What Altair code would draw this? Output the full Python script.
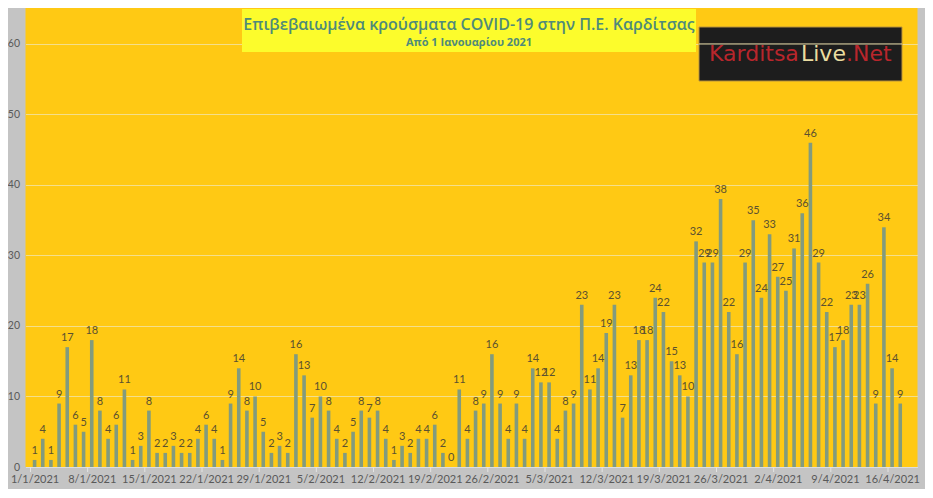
import altair as alt
import pandas as pd

# Daily confirmed cases, 1/1/2021 .. 17/4/2021
values = [
    1, 4, 1, 9, 17, 6, 5, 18, 8, 4, 6, 11, 1, 3, 8, 2, 2, 3, 2, 2, 4, 6, 4, 1, 9, 14, 8, 10, 5, 2, 3,  # Jan
    2, 16, 13, 7, 10, 8, 4, 2, 5, 8, 7, 8, 4, 1, 3, 2, 4, 4, 6, 2, 0, 11, 4, 8, 9, 16, 9, 4,          # Feb
    9, 4, 14, 12, 12, 4, 8, 9, 23, 11, 14, 19, 23, 7, 13, 18, 18, 24, 22, 15, 13, 10, 32, 29, 29, 38,
    22, 16, 29, 35, 24,                                                                                # Mar
    33, 27, 25, 31, 36, 46, 29, 22, 17, 18, 23, 23, 26, 9, 34, 14, 9,                                  # Apr
]
tick_labels = [
    "1/1/2021", "8/1/2021", "15/1/2021", "22/1/2021", "29/1/2021", "5/2/2021",
    "12/2/2021", "19/2/2021", "26/2/2021", "5/3/2021", "12/3/2021", "19/3/2021",
    "26/3/2021", "2/4/2021", "9/4/2021", "16/4/2021",
]
title_line1 = "Επιβεβαιωμένα κρούσματα COVID-19 στην Π.Ε. Καρδίτσας"
title_line2 = "Από 1 Ιανουαρίου 2021"

df = pd.DataFrame({"d": list(range(len(values))), "v": values})
tick_pos = pd.DataFrame({"t": [7 * k - 0.5 for k in range(len(tick_labels))]})

label_js = "[" + ",".join("'" + s + "'" for s in tick_labels) + "]"

W, H = 892, 459
xscale = alt.Scale(domain=[-0.5, 107.5], nice=False, zero=False)
yscale = alt.Scale(domain=[0, 65.1], nice=False)

x_enc = alt.X(
    "d:Q", scale=xscale,
    axis=alt.Axis(
        values=[7 * k for k in range(len(tick_labels))],
        labelExpr=label_js + "[round(datum.value/7)]",
        grid=False, ticks=False, domain=True, domainColor="#dedede",
        labelColor="#595959", labelFont="Lato", labelFontSize=11,
        labelPadding=6, title=None, labelFlush=False, labelOverlap=False,
    ),
)
y_enc = alt.Y(
    "v:Q", scale=yscale,
    axis=alt.Axis(
        values=[0, 10, 20, 30, 40, 50, 60], grid=True, gridColor="#f4df8c",
        gridWidth=1, ticks=False, domain=False, labelColor="#595959",
        labelFont="Lato", labelFontSize=10.5, labelPadding=6, title=None,
    ),
)

base = alt.Chart(df)
bars = base.mark_bar(size=3.6, color="#829b7e").encode(x=x_enc, y=y_enc)
labels = base.mark_text(
    baseline="bottom", dy=-4, fontSize=11, font="Lato", color="#5b5130"
).encode(x="d:Q", y="v:Q", text="v:Q")

ticks = alt.Chart(tick_pos).mark_rule(color="#e4e4e4", strokeWidth=1).encode(
    x=alt.X("t:Q", scale=xscale), y=alt.value(H), y2=alt.value(H + 5)
)

# decoration positions are relative to the plot area (left edge at page x 25.5)
one = pd.DataFrame({"a": [0]})
title_box = alt.Chart(one).mark_rect(color="#fcfc2c").encode(
    x=alt.value(216.5), x2=alt.value(670.5), y=alt.value(1), y2=alt.value(44)
)
t1 = alt.Chart(one).mark_text(
    text=title_line1, font="Open Sans", fontSize=16, fontWeight=600,
    color="#4f8a7a", align="center", baseline="middle",
).encode(x=alt.value(443.5), y=alt.value(17))
t2 = alt.Chart(one).mark_text(
    text=title_line2, font="Open Sans", fontSize=11, fontWeight="bold",
    color="#4f8a7a", align="center", baseline="middle",
).encode(x=alt.value(443.5), y=alt.value(35))

logo_box = alt.Chart(one).mark_rect(color="#1d1d1d", stroke="#b8923c", strokeWidth=1).encode(
    x=alt.value(673.5), x2=alt.value(876.5), y=alt.value(19), y2=alt.value(73)
)
logo_grid = alt.Chart(one).mark_rule(color="#f0e4b0", strokeWidth=1).encode(
    x=alt.value(673.5), x2=alt.value(876.5), y=alt.datum(60, scale=yscale)
)
lk = alt.Chart(one).mark_text(
    text="Karditsa", font="DejaVu Sans", fontSize=22, color="#b8262c",
    align="left", baseline="alphabetic",
).encode(x=alt.value(683.5), y=alt.value(53))
ll = alt.Chart(one).mark_text(
    text="Live", font="DejaVu Sans", fontSize=22, color="#eadca0",
    align="left", baseline="alphabetic",
).encode(x=alt.value(775.5), y=alt.value(53))
ln = alt.Chart(one).mark_text(
    text=".Net", font="DejaVu Sans", fontSize=22, color="#b8262c",
    align="left", baseline="alphabetic",
).encode(x=alt.value(820.5), y=alt.value(53))

chart = alt.layer(
    bars, labels, ticks, title_box, t1, t2, logo_box, lk, ll, ln, logo_grid
).properties(
    width=W, height=H,
    autosize=alt.AutoSizeParams(type="none"),
    padding={"left": 17.5, "top": 0, "right": 7, "bottom": 22},
    background="#c4c4c4",
).configure_view(fill="#ffc914", stroke=None)

chart.save("out.html", embed_options={"renderer": "svg", "actions": False})
